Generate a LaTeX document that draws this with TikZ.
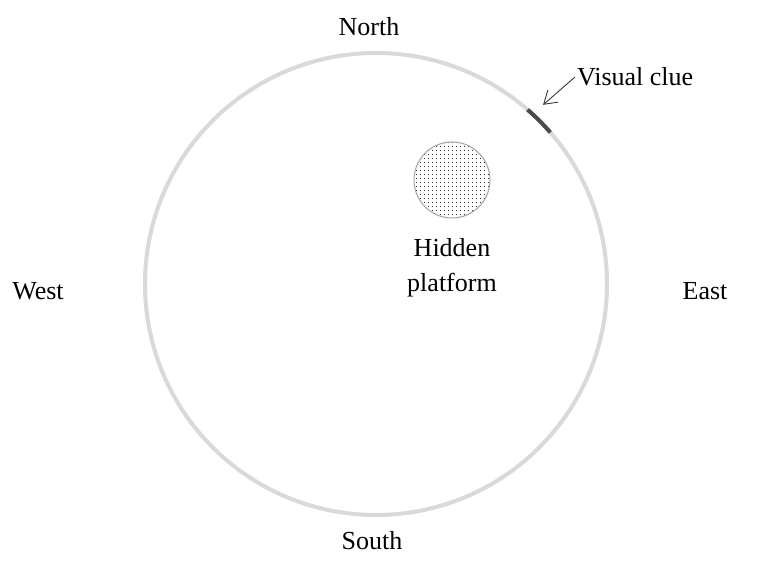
\documentclass[tikz,border=0pt]{standalone}
\usepackage{fontspec}
\setmainfont{Liberation Serif}
\usepackage{xcolor}
\usetikzlibrary{arrows.meta,patterns,positioning,calc}

\pgfdeclarepatternformonly{fine dots}{\pgfpointorigin}{\pgfqpoint{2pt}{2pt}}{\pgfqpoint{2pt}{2pt}}%
{\pgfpathcircle{\pgfqpoint{1pt}{1pt}}{0.4pt}\pgfusepath{fill}}

\begin{document}
\begin{tikzpicture}[x=0.02cm,y=0.02cm,
    compass/.style={font=\fontsize{14.8}{17}\selectfont,inner sep=1pt},
    pool/.style={gray!30,line width=2.3pt},
    cue/.style={black!70,line width=2.3pt}]
  \useasboundingbox (0,0) rectangle (758,578);
  % water maze
  \coordinate (pool) at (376,294);
  \draw[pool] (pool) circle (231);
  % visual clue on the wall
  \draw[cue] ($(pool)+(41:231)$) arc (41:49:231);
  \coordinate (cluetip) at ($(pool)+(47:245)$);
  \node[compass,anchor=west] (clue) at (575,501) {Visual clue};
  \draw[-{Straight Barb[length=7pt,width=9pt]},black!80,line width=0.5pt] (clue.west) -- (cluetip);
  % hidden platform
  \node[circle,draw=gray!70,line width=0.6pt,pattern=fine dots,pattern color=black!80,
        minimum size=1.52cm,inner sep=0pt] (platform) at (452,398) {};
  \node[compass,align=center,font=\fontsize{14.8}{19.9}\selectfont,below=0.36cm of platform] (platformlabel) {Hidden\\platform};
  % compass directions
  \node[compass] (north) at (369,551) {North};
  \node[compass] (south) at (372,37) {South};
  \node[compass] (west) at (38,287) {West};
  \node[compass] (east) at (705,287) {East};
\end{tikzpicture}
\end{document}
